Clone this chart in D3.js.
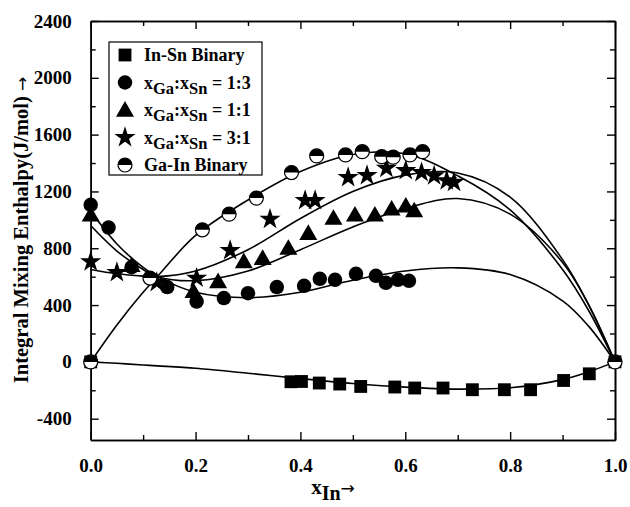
<!DOCTYPE html>
<html><head><meta charset="utf-8">
<script src="https://cdn.jsdelivr.net/npm/d3@7"></script>
<style>body{margin:0;background:#fff}svg{display:block}text{font-family:"Liberation Serif","Times New Roman",serif;font-weight:bold;fill:#000}</style>
</head><body>
<svg id="c" width="630" height="507"></svg>
<script>
// ---- data (x = mole fraction In, y = J/mol) ----
const inSnX = [0, 0.382, 0.402, 0.436, 0.475, 0.515, 0.580, 0.618, 0.672, 0.728, 0.789, 0.839, 0.902, 0.951, 1.0];
const inSnY = [0, -140, -138, -149, -156, -173, -177, -184, -184, -196, -196, -196, -131, -84, 0];
const r13X = [0, 0.034, 0.078, 0.146, 0.202, 0.254, 0.300, 0.355, 0.407, 0.437, 0.466, 0.506, 0.544, 0.563, 0.586, 0.607];
const r13Y = [1106, 946, 667, 527, 425, 449, 484, 527, 536, 585, 578, 620, 606, 557, 578, 571];
const r11X = [0, 0.078, 0.196, 0.243, 0.292, 0.328, 0.377, 0.415, 0.463, 0.504, 0.542, 0.574, 0.601, 0.617];
const r11Y = [1035, 680, 496, 566, 707, 730, 801, 906, 1012, 1035, 1035, 1077, 1098, 1065];
const r31X = [0, 0.050, 0.126, 0.202, 0.266, 0.342, 0.409, 0.428, 0.491, 0.527, 0.564, 0.601, 0.631, 0.655, 0.679, 0.693];
const r31Y = [705, 629, 560, 590, 784, 1005, 1136, 1136, 1298, 1312, 1364, 1347, 1333, 1310, 1276, 1265];
const gaInX = [0, 0.113, 0.213, 0.264, 0.316, 0.383, 0.431, 0.486, 0.518, 0.555, 0.577, 0.609, 0.633, 1.0];
const gaInY = [0, 590, 930, 1040, 1153, 1333, 1450, 1457, 1480, 1445, 1441, 1457, 1480, 0];

// fitted curves
const fitX = [0, 0.05, 0.1, 0.127, 0.2, 0.3, 0.4, 0.5, 0.6, 0.7, 0.8, 0.9, 0.95, 1.0];
const fitInSn = [0, -10, -22, -28, -45, -80, -118, -152, -178, -192, -182, -125, -70, 0];
const fit13 = [1060, 830, 665, 600, 490, 452, 490, 575, 640, 662, 615, 430, 250, 0];
const fit11 = [960, 780, 650, 600, 572, 640, 790, 950, 1080, 1150, 1040, 700, 400, 0];
const fit31 = [650, 620, 604, 600, 640, 790, 1010, 1200, 1315, 1330, 1160, 720, 400, 0];
const fitGaIn = [0, 260, 490, 600, 890, 1140, 1340, 1460, 1465, 1310, 1070, 650, 360, 0];

const xTicks = [0, 0.2, 0.4, 0.6, 0.8, 1.0];
const xMinor = [0.1, 0.3, 0.5, 0.7, 0.9];
const yTicks = [-400, 0, 400, 800, 1200, 1600, 2000, 2400];
const yMinor = [-200, 200, 600, 1000, 1400, 1800, 2200];

// ---- layout ----
const L = 90.7, R = 615, T = 21, B = 440;
const svg = d3.select("#c");
const x = d3.scaleLinear().domain([0, 1]).range([L, R]);
const y = d3.scaleLinear().domain([-550, 2400]).range([B, T]);

function ax(gen, tr, vals, len, fmt, pad) {
  const g = svg.append("g").attr("transform", tr)
    .call(gen.tickValues(vals).tickSizeInner(len).tickSizeOuter(0).tickPadding(pad || 10).tickFormat(fmt));
  g.select(".domain").attr("stroke", "#000").attr("stroke-width", 1.6);
  g.selectAll(".tick line").attr("stroke", "#000").attr("stroke-width", 1.4);
  g.selectAll("text").attr("font-size", 19).style("font-family", '"Liberation Serif",serif').style("font-weight", "bold");
  return g;
}
const nofmt = () => "";
ax(d3.axisBottom(x), `translate(0,${B})`, xTicks, -8, d => d.toFixed(1), 19);
ax(d3.axisBottom(x), `translate(0,${B})`, xMinor, -5, nofmt);
ax(d3.axisTop(x), `translate(0,${T})`, xTicks, -8, nofmt);
ax(d3.axisTop(x), `translate(0,${T})`, xMinor, -5, nofmt);
ax(d3.axisLeft(y), `translate(${L},0)`, yTicks, -8, d => String(d), 19);
ax(d3.axisLeft(y), `translate(${L},0)`, yMinor, -5, nofmt);
ax(d3.axisRight(y), `translate(${R},0)`, yTicks, -8, nofmt);
ax(d3.axisRight(y), `translate(${R},0)`, yMinor, -5, nofmt);

// curves
const line = d3.line().x(d => x(d[0])).y(d => y(d[1])).curve(d3.curveCatmullRom.alpha(0.5));
[fitInSn, fit13, fit11, fit31, fitGaIn].forEach(f => {
  svg.append("path").datum(fitX.map((v, i) => [v, f[i]])).attr("d", line)
    .attr("fill", "none").attr("stroke", "#000").attr("stroke-width", 1.6);
});

// markers
function drawSym(g, type, cx, cy) {
  if (type === "half") {
    const r = 7;
    g.append("circle").attr("cx", cx).attr("cy", cy).attr("r", r).attr("fill", "#fff").attr("stroke", "#000").attr("stroke-width", 1.2);
    g.append("path").attr("d", `M${cx - r},${cy} A${r},${r} 0 0 1 ${cx + r},${cy} Z`).attr("fill", "#000");
  } else {
    const map = { sq: [d3.symbolSquare, 165], ci: [d3.symbolCircle, 165], tr: [d3.symbolTriangle, 140], st: [d3.symbolStar, 140] };
    const [s, size] = map[type];
    g.append("path").attr("d", d3.symbol().type(s).size(size)()).attr("transform", `translate(${cx},${cy + (type === "tr" ? 1.5 : 0)})`).attr("fill", "#000");
  }
}
const series = [
  ["sq", inSnX, inSnY], ["ci", r13X, r13Y], ["tr", r11X, r11Y], ["st", r31X, r31Y], ["half", gaInX, gaInY]
];
const mg = svg.append("g");
series.forEach(([t, xs, ys]) => xs.forEach((v, i) => drawSym(mg, t, x(v), y(ys[i]))));

// legend
const lg = svg.append("g");
lg.append("rect").attr("x", 109).attr("y", 42).attr("width", 153).attr("height", 133).attr("fill", "#fff").attr("stroke", "#000").attr("stroke-width", 1.2);
const legendRows = [
  ["sq", [["In-Sn Binary"]]],
  ["ci", [["x"], ["Ga", 1], [":x"], ["Sn", 1], [" = 1:3"]]],
  ["tr", [["x"], ["Ga", 1], [":x"], ["Sn", 1], [" = 1:1"]]],
  ["st", [["x"], ["Ga", 1], [":x"], ["Sn", 1], [" = 3:1"]]],
  ["half", [["Ga-In Binary"]]]
];
legendRows.forEach(([t, parts], i) => {
  const cy = 55 + i * 27.5;
  drawSym(lg, t, 125, cy);
  const tx = lg.append("text").attr("x", 144).attr("y", cy + 6).attr("font-size", 18);
  parts.forEach((p, j) => {
    const sp = tx.append("tspan").text(p[0]);
    if (p[1]) sp.attr("dy", 5).attr("font-size", 16.5);
    else if (j > 0) sp.attr("dy", -5);
  });
});

// axis titles
const yt = svg.append("text").attr("transform", "translate(28,230) rotate(-90)").attr("text-anchor", "middle").attr("font-size", 20.5);
yt.append("tspan").text("Integral Mixing Enthalpy(J/mol) ");
yt.append("tspan").text("\u2192").style("font-family", '"DejaVu Sans",sans-serif').style("font-weight", "normal").attr("font-size", 17);
const xt = svg.append("text").attr("x", 333).attr("y", 494).attr("text-anchor", "middle").attr("font-size", 21);
xt.append("tspan").text("x");
xt.append("tspan").text("In").attr("dy", 6).attr("font-size", 20);
xt.append("tspan").text("\u2192").attr("dy", -6).style("font-family", '"DejaVu Sans",sans-serif').style("font-weight", "normal").attr("font-size", 17);
</script>
</body></html>
